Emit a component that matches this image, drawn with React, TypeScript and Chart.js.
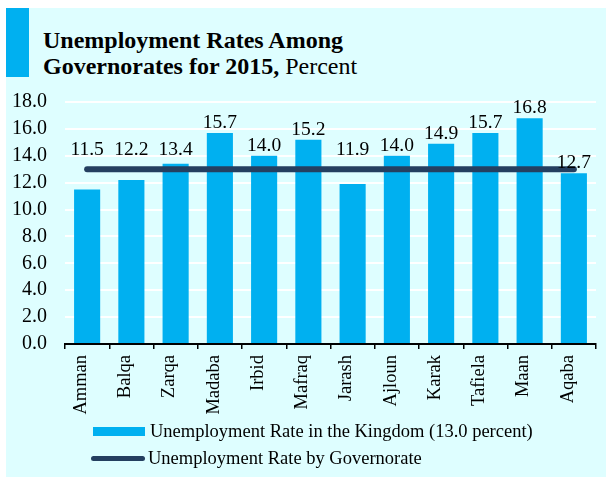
import React, { useEffect, useRef } from "react";
import { Chart, registerables } from "chart.js";

Chart.register(...registerables);

const categories = ["Amman", "Balqa", "Zarqa", "Madaba", "Irbid", "Mafraq", "Jarash", "Ajloun", "Karak", "Tafiela", "Maan", "Aqaba"];
const governorateRates = [11.5, 12.2, 13.4, 15.7, 14.0, 15.2, 11.9, 14.0, 14.9, 15.7, 16.8, 12.7];
const kingdomRates = [13.0, 13.0, 13.0, 13.0, 13.0, 13.0, 13.0, 13.0, 13.0, 13.0, 13.0, 13.0];
const yTicks = [0, 2, 4, 6, 8, 10, 12, 14, 16, 18];
const barLegend = "Unemployment Rate in the Kingdom (13.0 percent)";
const lineLegend = "Unemployment Rate by Governorate";

const BAR_COLOR = "#00B0F0";
const LINE_COLOR = "#243F60";
const BG = "#DEFEFF";
const SERIF = "'Liberation Serif', 'Times New Roman', serif";

const labelPlugin = {
  id: "barValueLabels",
  afterDatasetsDraw(chart: any) {
    const ctx = chart.ctx;
    const barMeta = chart.getDatasetMeta(0);
    const lineMeta = chart.getDatasetMeta(1);
    const last = barMeta.data.length - 1;
    ctx.save();
    ctx.font = `19.5px ${SERIF}`;
    ctx.fillStyle = "#000";
    ctx.textAlign = "center";
    ctx.textBaseline = "alphabetic";
    barMeta.data.forEach((bar: any, i: number) => {
      let y = bar.y - 5;
      if (i < last) y = Math.min(y, lineMeta.data[i].y - 14);
      ctx.fillText(governorateRates[i].toFixed(1), bar.x, y);
    });
    ctx.restore();
  },
};

export default function App() {
  const canvasRef = useRef<HTMLCanvasElement | null>(null);

  useEffect(() => {
    const canvas = canvasRef.current;
    if (!canvas) return;
    const chart = new Chart(canvas, {
      type: "bar",
      data: {
        labels: categories,
        datasets: [
          {
            type: "bar",
            label: barLegend,
            data: governorateRates,
            backgroundColor: BAR_COLOR,
            borderWidth: 0,
            barPercentage: 0.59,
            categoryPercentage: 1,
            order: 2,
          } as any,
          {
            type: "line",
            label: lineLegend,
            data: kingdomRates,
            borderColor: LINE_COLOR,
            borderWidth: 6,
            borderCapStyle: "round",
            pointRadius: 0,
            fill: false,
            tension: 0,
            order: 0,
          } as any,
        ],
      },
      options: {
        responsive: false,
        animation: false,
        layout: { padding: { top: 2, right: 10, left: 0, bottom: 0 } },
        plugins: {
          legend: { display: false },
          title: { display: false },
          tooltip: { enabled: false },
        },
        scales: {
          x: {
            offset: true,
            grid: {
              display: true,
              offset: true,
              drawOnChartArea: false,
              drawTicks: true,
              tickLength: 5,
              color: "#000",
              lineWidth: 1.5,
            },
            border: { display: true, color: "#000", width: 2 },
            ticks: {
              maxRotation: 90,
              minRotation: 90,
              autoSkip: false,
              padding: 6,
              labelOffset: -6,
              color: "#000",
              font: { family: SERIF, size: 18.5 },
            },
            afterFit: (scale: any) => {
              scale.height = 76;
            },
          },
          y: {
            min: 0,
            max: 18,
            afterBuildTicks: (scale: any) => {
              scale.ticks = yTicks.map((v) => ({ value: v }));
            },
            grid: {
              color: "#FFFFFF",
              lineWidth: 2,
              drawTicks: false,
            },
            border: { display: false },
            ticks: {
              autoSkip: false,
              padding: 18,
              color: "#000",
              font: { family: SERIF, size: 20 },
              callback: (v: any) => Number(v).toFixed(1),
            },
            afterFit: (scale: any) => {
              scale.width = 59;
            },
          },
        },
      },
      plugins: [labelPlugin],
    });
    return () => chart.destroy();
  }, []);

  return (
    <div style={{ position: "fixed", left: 0, top: 0, width: 606, height: 477, background: "#fff", overflow: "hidden" }}>
      <div style={{ position: "absolute", left: 6, top: 8, width: 600, height: 469, background: BG }} />
      <div style={{ position: "absolute", left: 6, top: 8, width: 23, height: 69, background: BAR_COLOR }} />
      <div
        style={{
          position: "absolute",
          left: 43,
          top: 27,
          fontFamily: SERIF,
          fontSize: 24,
          lineHeight: "26px",
          color: "#000",
          whiteSpace: "nowrap",
        }}
      >
        <div style={{ fontWeight: "bold" }}>Unemployment Rates Among</div>
        <div>
          <span style={{ fontWeight: "bold" }}>Governorates for 2015,</span> Percent
        </div>
      </div>
      <canvas
        ref={canvasRef}
        width={600}
        height={348}
        style={{ position: "absolute", left: 6, top: 72, width: 600, height: 348 }}
      />
      <div style={{ position: "absolute", left: 93, top: 419, fontFamily: SERIF, fontSize: 18.5, color: "#000" }}>
        <div style={{ display: "flex", alignItems: "center", height: 25 }}>
          <span style={{ display: "inline-block", width: 52, height: 9, background: BAR_COLOR, marginRight: 5 }} />
          <span>{barLegend}</span>
        </div>
        <div style={{ display: "flex", alignItems: "center", height: 28 }}>
          <span
            style={{
              display: "inline-block",
              width: 54,
              height: 5,
              borderRadius: 3,
              background: LINE_COLOR,
              marginLeft: -2,
              marginRight: 3,
            }}
          />
          <span>{lineLegend}</span>
        </div>
      </div>
    </div>
  );
}
